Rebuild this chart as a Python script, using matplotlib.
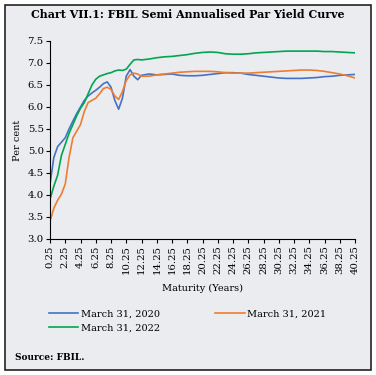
import matplotlib
matplotlib.use("Agg")
import matplotlib.pyplot as plt
from matplotlib.patches import Rectangle

# maturities (years)
maturity = [0.25, 0.75, 1.25, 1.75, 2.25, 2.75, 3.25, 3.75, 4.25, 4.75, 5.25, 5.75,
            6.25, 6.75, 7.25, 7.75, 8.25, 8.75, 9.25, 9.75, 10.25, 10.75, 11.25,
            11.75, 12.25] + [13.25 + i for i in range(28)]

y2020 = [4.25, 4.85, 5.10, 5.20, 5.30, 5.50, 5.68, 5.85, 6.00, 6.15, 6.25, 6.32,
         6.38, 6.45, 6.53, 6.57, 6.45, 6.15, 5.95, 6.20, 6.70, 6.85, 6.70,
         6.62, 6.72,
         6.75, 6.73, 6.74, 6.75, 6.72, 6.71, 6.71, 6.72, 6.74, 6.76, 6.78, 6.78,
         6.77, 6.74, 6.72, 6.70, 6.68, 6.66, 6.65, 6.65, 6.65, 6.66, 6.67, 6.69,
         6.70, 6.72, 6.73, 6.74]

y2021 = [3.40, 3.70, 3.88, 4.02, 4.25, 4.85, 5.30, 5.45, 5.60, 5.90, 6.10, 6.15,
         6.20, 6.30, 6.42, 6.45, 6.40, 6.25, 6.17, 6.35, 6.60, 6.73, 6.77,
         6.75, 6.70,
         6.70, 6.73, 6.75, 6.77, 6.79, 6.80, 6.81, 6.81, 6.81, 6.80, 6.78, 6.77,
         6.77, 6.77, 6.78, 6.79, 6.80, 6.81, 6.82, 6.83, 6.84, 6.84, 6.83, 6.81,
         6.78, 6.75, 6.71, 6.66]

y2022 = [3.90, 4.20, 4.45, 4.90, 5.15, 5.40, 5.60, 5.80, 5.97, 6.10, 6.30, 6.50,
         6.63, 6.70, 6.73, 6.76, 6.78, 6.82, 6.84, 6.83, 6.86, 6.97, 7.07,
         7.08, 7.07,
         7.09, 7.12, 7.14, 7.15, 7.17, 7.19, 7.22, 7.24, 7.25, 7.24, 7.21, 7.20,
         7.20, 7.21, 7.23, 7.24, 7.25, 7.26, 7.27, 7.27, 7.27, 7.27, 7.27, 7.26,
         7.26, 7.25, 7.24, 7.23]

labels = ["March 31, 2020", "March 31, 2021", "March 31, 2022"]
colors = ["#4472C4", "#ED7D31", "#00A650"]
xticks = [0.25 + 2 * i for i in range(21)]

plt.rcParams["font.family"] = "DejaVu Serif"
bg = "#EBECF0"

fig = plt.figure(figsize=(3.76, 3.75), dpi=100, facecolor="white")
fig.patches.append(Rectangle((5 / 376, 5 / 375), 366 / 376, 365 / 375,
                             transform=fig.transFigure, facecolor=bg,
                             edgecolor="#222222", linewidth=1.2, zorder=-1))

ax = fig.add_axes([50 / 376, 1 - 239 / 375, 305 / 376, 198 / 375])
ax.set_facecolor(bg)
lines = []
for y, lab, c in zip([y2020, y2021, y2022], labels, colors):
    lines += ax.plot(maturity, y, color=c, linewidth=1.2, label=lab)

ax.set_xlim(0.25, 40.25)
ax.set_ylim(3.0, 7.5)
ax.set_xticks(xticks)
ax.set_xticklabels([f"{t:.2f}" for t in xticks], rotation=90, fontsize=7.3)
ax.set_yticks([3.0 + 0.5 * i for i in range(10)])
ax.set_yticklabels([f"{3.0 + 0.5 * i:.1f}" for i in range(10)], fontsize=7.3)
ax.tick_params(length=3, width=0.8, pad=1.5)
for s in ["top", "right"]:
    ax.spines[s].set_visible(False)
ax.set_xlabel("Maturity (Years)", fontsize=7, labelpad=7)
ax.set_ylabel("Per cent", fontsize=7, labelpad=4)

fig.text(188 / 376, 1 - 15 / 375, "Chart VII.1: FBIL Semi Annualised Par Yield Curve",
         ha="center", va="center", fontsize=7.9, fontweight="bold")

# row-wise legend order: 2020, 2021 / 2022
order = [0, 2, 1]
fig.legend([lines[i] for i in order], [labels[i] for i in order],
           loc="upper left", bbox_to_anchor=(40 / 376, 1 - 301 / 375), ncol=2,
           frameon=False, fontsize=7, handlelength=3.0, handletextpad=0.3,
           columnspacing=5.7, labelspacing=0.5)

fig.text(15 / 376, 1 - 357 / 375, "Source: FBIL.", ha="left", va="center",
         fontsize=6.5, fontweight="bold")

fig.savefig("out.png", dpi=100, facecolor=fig.get_facecolor())
